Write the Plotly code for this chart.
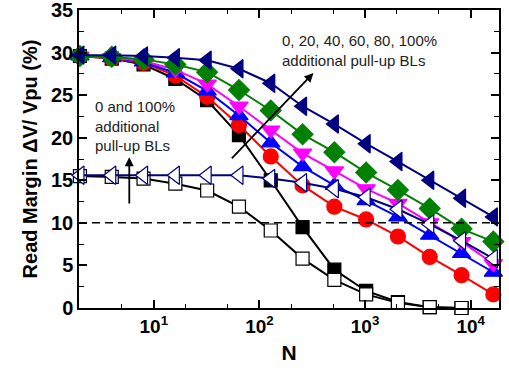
import plotly.graph_objects as go

N = [2, 4, 8, 16, 32, 64, 128, 256, 512, 1024, 2048, 4096, 8192, 16384]

closed_0 = [29.6, 29.3, 28.6, 26.9, 24.4, 20.3, 15.0, 9.5, 4.5, 2.0, 0.7, 0.1, 0.0]
closed_20 = [29.6, 29.3, 28.8, 27.3, 24.8, 21.5, 17.8, 14.4, 11.9, 10.4, 8.4, 6.0, 3.85, 1.6]
closed_40 = [29.6, 29.4, 28.9, 27.6, 25.5, 22.6, 19.4, 16.6, 14.4, 12.6, 10.7, 8.55, 6.4, 4.2]
closed_60 = [29.6, 29.4, 29.0, 28.0, 26.3, 23.7, 20.9, 18.2, 16.1, 14.0, 12.3, 10.0, 7.8, 5.2]
closed_80 = [29.6, 29.5, 29.2, 28.6, 27.7, 25.6, 23.2, 20.4, 18.3, 15.9, 13.85, 11.7, 9.3, 7.8]
closed_100 = [29.7, 29.7, 29.6, 29.4, 29.1, 28.1, 26.4, 23.7, 21.6, 19.3, 17.2, 15.0, 12.9, 10.7]
open_0 = [15.5, 15.4, 15.2, 14.6, 13.8, 11.9, 9.1, 5.8, 3.3, 1.6, 0.6, 0.1, 0.0]
open_100 = [15.6, 15.6, 15.6, 15.6, 15.6, 15.6, 15.2, 14.7, 14.0, 13.0, 11.6, 9.85, 7.9, 5.8]

x_tickvals = [10, 100, 1000, 10000]
x_ticktext = ["10<sup>1</sup>", "10<sup>2</sup>", "10<sup>3</sup>", "10<sup>4</sup>"]
y_tickvals = [0, 5, 10, 15, 20, 25, 30, 35]
threshold = 10

series = [
    (closed_0, "#000000", "square", "#000000", 13),
    (closed_20, "#FF0000", "circle", "#FF0000", 15),
    (closed_40, "#0000FF", "triangle-up", "#0000FF", 16),
    (closed_60, "#FF00FF", "triangle-down", "#FF00FF", 16),
    (closed_80, "#008000", "diamond", "#008000", 16),
    (closed_100, "#000080", "triangle-left", "#000080", 16),
    (open_0, "#000000", "square", "#FFFFFF", 13),
    (open_100, "#000080", "triangle-left", "#FFFFFF", 16),
]

fig = go.Figure()
for vals, col, sym, fill, size in series:
    fig.add_trace(go.Scatter(
        x=N[:len(vals)], y=vals, mode="lines+markers",
        line=dict(color=col, width=2),
        marker=dict(symbol=sym, size=size, color=fill,
                    line=dict(color=col, width=1.2)),
        cliponaxis=False, showlegend=False,
    ))

fig.add_shape(type="line", xref="paper", x0=0, x1=1, yref="y", y0=threshold, y1=threshold,
              line=dict(color="black", width=1.5, dash="8px,5px"))

font_ann = dict(family="Liberation Sans, Arial, sans-serif", size=15, color="#222")
fig.add_annotation(x=0.427, y=21.4, xref="x", yref="y", text="0 and 100%<br>additional<br>pull-up BLs",
                   showarrow=False, xanchor="left", yanchor="middle", align="left", font=font_ann)
fig.add_annotation(x=2.198, y=30.3, xref="x", yref="y", text="0, 20, 40, 60, 80, 100%<br>additional pull-up BLs",
                   showarrow=False, xanchor="left", yanchor="middle", align="left", font=font_ann)
fig.add_annotation(x=0.768, y=17.7, ax=0.768, ay=12.1, xref="x", yref="y", axref="x", ayref="y",
                   text="", showarrow=True, arrowhead=2, arrowsize=1, arrowwidth=1.8, arrowcolor="black")
fig.add_annotation(x=2.511, y=27.6, ax=1.725, ay=17.4, xref="x", yref="y", axref="x", ayref="y",
                   text="", showarrow=True, arrowhead=2, arrowsize=1, arrowwidth=1.8, arrowcolor="black")

fam = "Liberation Sans, Arial, sans-serif"
fig.update_layout(
    width=509, height=371,
    margin=dict(l=79, r=10, t=10, b=63, autoexpand=False),
    plot_bgcolor="white", paper_bgcolor="white",
    xaxis=dict(type="log", range=[0.292, 4.268], tickvals=x_tickvals, ticktext=x_ticktext,
               ticks="inside", ticklen=8, tickwidth=1.5, tickcolor="black",
               minor=dict(ticks="inside", ticklen=4, tickwidth=1.2, tickcolor="black", dtick="D2"),
               showline=True, linecolor="black", linewidth=1.5, mirror="allticks",
               showgrid=False, zeroline=False, automargin=False, ticklabeloverflow="allow",
               tickfont=dict(family=fam, size=19, color="black", weight="bold"),
               title=dict(text="<b>N</b>", font=dict(family=fam, size=21, color="black"), standoff=10)),
    yaxis=dict(range=[0, 35], tickvals=y_tickvals,
               ticks="inside", ticklen=8, tickwidth=1.5, tickcolor="black",
               minor=dict(ticks="inside", ticklen=5, tickwidth=1.2, tickcolor="black", dtick=2.5),
               showline=True, linecolor="black", linewidth=1.5, mirror="allticks",
               showgrid=False, zeroline=False, automargin=False, ticklabeloverflow="allow",
               tickfont=dict(family=fam, size=20, color="black", weight="bold"),
               title=dict(text="<b>Read Margin ΔV/ Vpu (%)</b>",
                          font=dict(family=fam, size=20, color="black"),
                          standoff=8)),
)

fig.write_html("out.html", config={"displayModeBar": False},
               post_script="document.body.style.margin='0';")
